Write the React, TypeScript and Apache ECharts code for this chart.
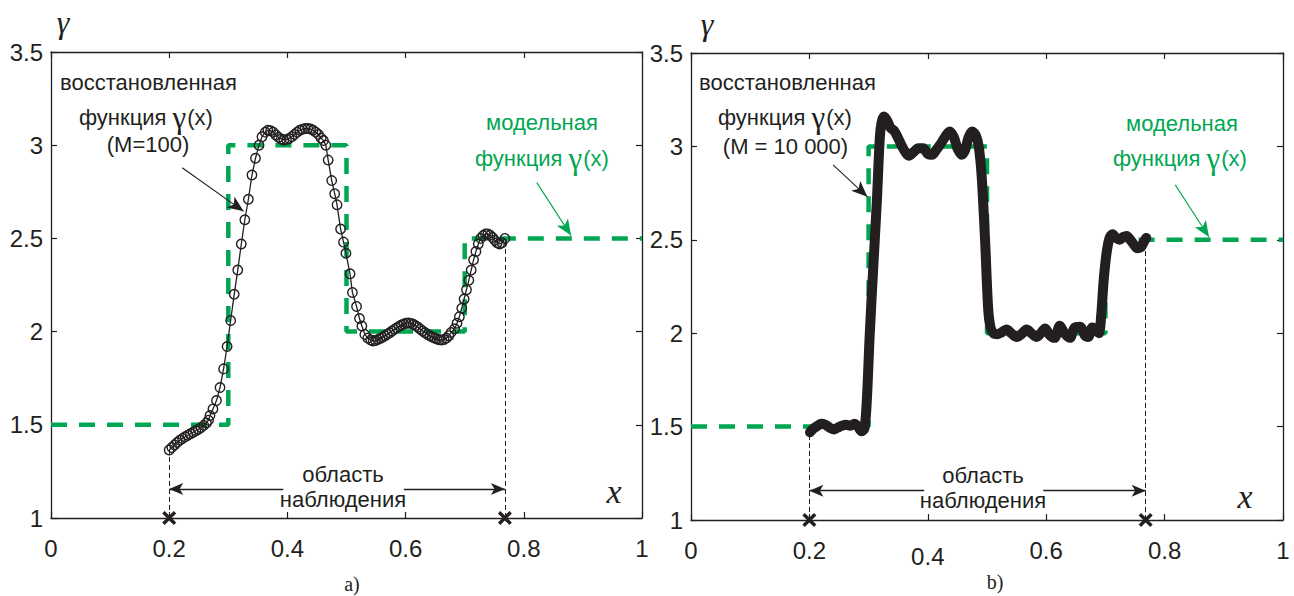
import React, { useEffect, useRef } from "react";
import * as echarts from "echarts";

// ---------- data ----------
const X_MIN = 0;
const X_MAX = 1;
const X_STEP = 0.2;
const Y_MIN = 1;
const Y_MAX = 3.5;
const Y_STEP = 0.5;

// model function gamma(x): [x where level starts, level]
const modelSteps: [number, number][] = [
  [0, 1.5],
  [0.3, 3],
  [0.5, 2],
  [0.7, 2.5],
  [1, 2.5],
];

// observation region
const OBS_START = 0.2;
const OBS_END = 0.768;

// reconstructed gamma(x), M = 100 (panel a)
const recon100: [number, number][] = [
  [0.2, 1.365], [0.2045, 1.378], [0.209, 1.392], [0.2135, 1.405], [0.218, 1.417],
  [0.2225, 1.427], [0.227, 1.436], [0.2315, 1.444], [0.236, 1.452], [0.2405, 1.46],
  [0.245, 1.468], [0.2495, 1.476], [0.254, 1.486], [0.2585, 1.497], [0.263, 1.51],
  [0.2665, 1.525],
  [0.269, 1.55], [0.274, 1.585], [0.28, 1.63], [0.286, 1.7], [0.292, 1.8],
  [0.298, 1.92], [0.304, 2.06], [0.31, 2.2], [0.316, 2.33], [0.322, 2.47],
  [0.328, 2.6], [0.334, 2.71], [0.34, 2.84], [0.346, 2.93], [0.352, 3.0], [0.357, 3.045],
  [0.3625, 3.07], [0.367, 3.08], [0.3715, 3.078], [0.376, 3.07], [0.3805, 3.055],
  [0.385, 3.042], [0.3895, 3.033], [0.394, 3.028], [0.3985, 3.03], [0.403, 3.036],
  [0.4075, 3.046], [0.412, 3.058], [0.4165, 3.07], [0.421, 3.08], [0.4255, 3.086],
  [0.43, 3.09], [0.4345, 3.09], [0.439, 3.087], [0.4435, 3.08], [0.448, 3.07],
  [0.4525, 3.058], [0.457, 3.038], [0.461, 3.025],
  [0.465, 3.0], [0.469, 2.92], [0.475, 2.81], [0.48, 2.74], [0.484, 2.68],
  [0.49, 2.55], [0.495, 2.48], [0.499, 2.42], [0.506, 2.31], [0.51, 2.21],
  [0.517, 2.135], [0.522, 2.07], [0.526, 2.03], [0.531, 1.985], [0.536, 1.965],
  [0.541, 1.955], [0.545, 1.95], [0.549, 1.952], [0.553, 1.957], [0.557, 1.963],
  [0.561, 1.97], [0.565, 1.978], [0.569, 1.986], [0.573, 1.994], [0.577, 2.003],
  [0.581, 2.012], [0.585, 2.02], [0.589, 2.028], [0.593, 2.035], [0.597, 2.041],
  [0.601, 2.045], [0.605, 2.046], [0.609, 2.044], [0.613, 2.039], [0.617, 2.032],
  [0.621, 2.023], [0.625, 2.013], [0.629, 2.003], [0.633, 1.994], [0.637, 1.986],
  [0.641, 1.978], [0.645, 1.971], [0.649, 1.965], [0.653, 1.96], [0.657, 1.956],
  [0.661, 1.955], [0.665, 1.957], [0.669, 1.965], [0.673, 1.978], [0.677, 1.995],
  [0.683, 2.015], [0.687, 2.045], [0.691, 2.08], [0.695, 2.125], [0.699, 2.175],
  [0.703, 2.225], [0.707, 2.275], [0.711, 2.33], [0.715, 2.385], [0.719, 2.43],
  [0.723, 2.47], [0.727, 2.5], [0.731, 2.515], [0.735, 2.523], [0.739, 2.524],
  [0.743, 2.517], [0.747, 2.505], [0.751, 2.49], [0.755, 2.477], [0.759, 2.47],
  [0.763, 2.477], [0.768, 2.5],
];

// reconstructed gamma(x), M = 10 000 (panel b)
const recon10000: [number, number][] = [
  [0.201, 1.47], [0.207, 1.49], [0.214, 1.505], [0.22, 1.515], [0.227, 1.51],
  [0.234, 1.495], [0.241, 1.485], [0.248, 1.495], [0.255, 1.505], [0.262, 1.51],
  [0.269, 1.505], [0.276, 1.515], [0.282, 1.5], [0.288, 1.475], [0.293, 1.49],
  [0.297, 1.64], [0.302, 2.0], [0.308, 2.36], [0.314, 2.71], [0.319, 3.05],
  [0.322, 3.13], [0.326, 3.16], [0.331, 3.14], [0.337, 3.1], [0.344, 3.08],
  [0.352, 3.03], [0.36, 2.98], [0.368, 2.95], [0.376, 2.97], [0.384, 2.99],
  [0.392, 2.99], [0.4, 2.96], [0.407, 2.955], [0.414, 2.98], [0.421, 3.01],
  [0.429, 3.05], [0.437, 3.08], [0.444, 3.05], [0.45, 2.99], [0.457, 2.955],
  [0.463, 2.98], [0.469, 3.05], [0.475, 3.08], [0.481, 3.06], [0.486, 3.0],
  [0.491, 2.84], [0.497, 2.48], [0.502, 2.13], [0.506, 2.03], [0.511, 2.0],
  [0.518, 1.995], [0.525, 2.005], [0.533, 2.02], [0.541, 2.0], [0.55, 1.98],
  [0.558, 1.995], [0.567, 2.02], [0.575, 2.0], [0.584, 1.98], [0.591, 2.0],
  [0.598, 2.025], [0.606, 1.99], [0.614, 1.975], [0.623, 2.04], [0.631, 2.0],
  [0.64, 1.975], [0.648, 2.03], [0.657, 2.035], [0.665, 1.99], [0.671, 1.98],
  [0.678, 2.03], [0.684, 2.02], [0.689, 2.0], [0.693, 2.1], [0.697, 2.28],
  [0.702, 2.43], [0.707, 2.51], [0.712, 2.53], [0.718, 2.51], [0.724, 2.5],
  [0.73, 2.515], [0.736, 2.52], [0.742, 2.5], [0.748, 2.475], [0.754, 2.455],
  [0.76, 2.46], [0.765, 2.49], [0.769, 2.51],
];

// annotation geometry (data coordinates)
const obsArrowY = [1.156, 1.157];
const obsArrowGapLeft = [0.393, 0.394];
const obsArrowGapRight = [0.597, 0.595];
const reconArrow: [number, number, number, number][] = [
  [0.222, 2.879, 0.326, 2.645],
  [0.24, 2.901, 0.298, 2.73],
];
const modelArrow: [number, number, number, number][] = [
  [0.822, 2.799, 0.88, 2.515],
  [0.818, 2.794, 0.875, 2.515],
];
const reconLabels = ["(M=100)", "(M = 10 000)"];
const panelLabels = ["a)", "b)"];

// ---------- styles ----------
const BLACK = "#231f20";
const GREEN = "#00a651";
const SANS = "'Liberation Sans', Arial, Helvetica, sans-serif";
const SERIF = "'Liberation Serif', 'Times New Roman', serif";

const grids = [
  { left: 51, top: 52, width: 591, height: 466 },
  { left: 691, top: 53, width: 592, height: 467 },
];

const CROSS =
  "path://M0 1.7L1.7 0L5 3.3L8.3 0L10 1.7L6.7 5L10 8.3L8.3 10L5 6.7L1.7 10L0 8.3L3.3 5Z";

function txt(x: number, y: number, text: string, o: any = {}) {
  return {
    type: "text",
    x,
    y,
    silent: true,
    z: 50,
    style: {
      text,
      fill: o.fill || BLACK,
      fontSize: o.fontSize || 22,
      fontFamily: o.fontFamily || SANS,
      fontStyle: o.fontStyle || "normal",
      align: o.align || "left",
      verticalAlign: "middle",
      textAlign: o.align || "left",
      textVerticalAlign: "middle",
      rich: o.rich,
    },
  };
}

function gammaRich(fill: string) {
  return {
    a: { fontSize: 22, fontFamily: SANS, fill, color: fill, lineHeight: 24 },
    g: { fontSize: 31, fontFamily: SERIF, fill, color: fill, lineHeight: 24, padding: [0, 1, 0, 0] },
  };
}

export default function App() {
  const ref = useRef<HTMLDivElement>(null);

  useEffect(() => {
    if (!ref.current) return;
    const chart = echarts.init(ref.current, null, { renderer: "svg" });

    const xAxes: any[] = [];
    const yAxes: any[] = [];
    grids.forEach((_, g) => {
      const line = { show: true, onZero: false, lineStyle: { color: BLACK, width: 1.3 } };
      const tick = { show: true, inside: true, length: 6, lineStyle: { color: BLACK, width: 1.2 } };
      xAxes.push({
        gridIndex: g,
        type: "value",
        min: X_MIN,
        max: X_MAX,
        interval: X_STEP,
        position: "bottom",
        axisLine: line,
        axisTick: tick,
        splitLine: { show: false },
        axisLabel: {
          margin: 18,
          fontSize: 24,
          fontFamily: SANS,
          color: BLACK,
          showMinLabel: true,
          showMaxLabel: true,
          formatter: (v: number) =>
            g === 1 && Math.abs(v - 0.4) < 1e-9 ? "{low|" + v + "}" : String(+v.toFixed(2)),
          rich: {
            low: { fontSize: 24, fontFamily: SANS, color: BLACK, padding: [6, 0, 0, 0] },
          },
        },
      });
      xAxes.push({
        gridIndex: g,
        type: "value",
        min: X_MIN,
        max: X_MAX,
        interval: X_STEP,
        position: "top",
        axisLine: line,
        axisTick: tick,
        splitLine: { show: false },
        axisLabel: { show: false },
      });
      yAxes.push({
        gridIndex: g,
        type: "value",
        min: Y_MIN,
        max: Y_MAX,
        interval: Y_STEP,
        position: "left",
        axisLine: line,
        axisTick: tick,
        splitLine: { show: false },
        axisLabel: { margin: 8, fontSize: 24, fontFamily: SANS, color: BLACK, showMinLabel: true, showMaxLabel: true },
      });
      yAxes.push({
        gridIndex: g,
        type: "value",
        min: Y_MIN,
        max: Y_MAX,
        interval: Y_STEP,
        position: "right",
        axisLine: line,
        axisTick: tick,
        splitLine: { show: false },
        axisLabel: { show: false },
      });
    });

    const series: any[] = [];
    [recon100, recon10000].forEach((recon, g) => {
      const xi = g * 2;
      const yi = g * 2;
      const startY = recon[0][1];
      const endY = recon[recon.length - 1][1];
      // model function (green dashed step)
      series.push({
        type: "line",
        xAxisIndex: xi,
        yAxisIndex: yi,
        data: modelSteps,
        step: "end",
        symbol: "none",
        silent: true,
        z: 3,
        lineStyle: { color: GREEN, width: 4.5, type: [16, 12] },
      });
      // guides, arrows
      series.push({
        type: "line",
        xAxisIndex: xi,
        yAxisIndex: yi,
        data: [],
        silent: true,
        z: 4,
        markLine: {
          silent: true,
          animation: false,
          label: { show: false },
          emphasis: { disabled: true },
          symbol: "none",
          lineStyle: { color: BLACK, width: 1, type: [5, 3] },
          data: [
            [{ coord: [OBS_START, Y_MIN] }, { coord: [OBS_START, startY] }],
            [{ coord: [OBS_END, Y_MIN] }, { coord: [OBS_END, endY] }],
            [
              { coord: [OBS_START, obsArrowY[g]], symbol: "arrow", symbolSize: [9, 14], lineStyle: { type: "solid", width: 1.3, color: BLACK } },
              { coord: [obsArrowGapLeft[g], obsArrowY[g]], symbol: "none" },
            ],
            [
              { coord: [obsArrowGapRight[g], obsArrowY[g]], symbol: "none", lineStyle: { type: "solid", width: 1.3, color: BLACK } },
              { coord: [OBS_END, obsArrowY[g]], symbol: "arrow", symbolSize: [9, 14] },
            ],
            [
              { coord: [reconArrow[g][0], reconArrow[g][1]], symbol: "none", lineStyle: { type: "solid", width: 1.1, color: BLACK } },
              { coord: [reconArrow[g][2], reconArrow[g][3]], symbol: "arrow", symbolSize: [10, 16] },
            ],
            [
              { coord: [modelArrow[g][0], modelArrow[g][1]], symbol: "none", lineStyle: { type: "solid", width: 1.1, color: GREEN } },
              { coord: [modelArrow[g][2], modelArrow[g][3]], symbol: "arrow", symbolSize: [10, 16], itemStyle: { color: GREEN } },
            ],
          ],
        },
      });
      // reconstruction
      if (g === 0) {
        series.push({
          type: "line",
          xAxisIndex: xi,
          yAxisIndex: yi,
          data: recon,
          symbol: "circle",
          symbolSize: 9.5,
          showAllSymbol: true,
          silent: true,
          z: 6,
          lineStyle: { color: BLACK, width: 1.3 },
          itemStyle: { color: "rgba(255,255,255,0)", borderColor: BLACK, borderWidth: 1.4 },
        });
      } else {
        series.push({
          type: "line",
          xAxisIndex: xi,
          yAxisIndex: yi,
          data: recon,
          symbol: "none",
          smooth: 0.3,
          silent: true,
          z: 6,
          lineStyle: { color: BLACK, width: 10, cap: "round", join: "round" },
        });
      }
      // observation-region end marks
      series.push({
        type: "scatter",
        xAxisIndex: xi,
        yAxisIndex: yi,
        data: [
          [OBS_START, Y_MIN],
          [OBS_END, Y_MIN],
        ],
        symbol: CROSS,
        symbolSize: 14,
        clip: false,
        silent: true,
        z: 8,
        itemStyle: { color: BLACK, opacity: 1 },
      });
    });

    const graphic: any[] = [];
    const panelsText = [
      {
        restored: [60, 82],
        func: [79, 117],
        m: [148, 144.5],
        mod: [542, 122.5],
        modFunc: [475, 158],
        obl: [343, 474],
        nab: [343, 499],
        gammaAxis: [63, 22],
        xAxisName: [614, 491],
        panel: [352, 584],
      },
      {
        restored: [699, 82.5],
        func: [718, 117],
        m: [785.5, 146],
        mod: [1182, 123],
        modFunc: [1113, 158.5],
        obl: [983, 475.5],
        nab: [983, 500.5],
        gammaAxis: [707, 24],
        xAxisName: [1245, 496],
        panel: [995, 582],
      },
    ];
    panelsText.forEach((p, g) => {
      graphic.push(txt(p.restored[0], p.restored[1], "восстановленная"));
      graphic.push(
        txt(p.func[0], p.func[1], "{a|функция }{g|γ}{a|(x)}", { rich: gammaRich(BLACK) })
      );
      graphic.push(txt(p.m[0], p.m[1], reconLabels[g], { align: "center" }));
      graphic.push(txt(p.mod[0], p.mod[1], "модельная", { align: "center", fill: GREEN }));
      graphic.push(
        txt(p.modFunc[0], p.modFunc[1], "{a|функция }{g|γ}{a|(x)}", { rich: gammaRich(GREEN), fill: GREEN })
      );
      graphic.push(txt(p.obl[0], p.obl[1], "область", { align: "center" }));
      graphic.push(txt(p.nab[0], p.nab[1], "наблюдения", { align: "center" }));
      graphic.push(
        txt(p.gammaAxis[0], p.gammaAxis[1], "γ", { align: "center", fontFamily: SERIF, fontSize: 32, fontStyle: "italic" })
      );
      graphic.push(
        txt(p.xAxisName[0], p.xAxisName[1], "x", { align: "center", fontFamily: SERIF, fontSize: 34, fontStyle: "italic" })
      );
      graphic.push(txt(p.panel[0], p.panel[1], panelLabels[g], { align: "center", fontFamily: SERIF, fontSize: 20 }));
    });

    chart.setOption({
      animation: false,
      backgroundColor: "#ffffff",
      grid: grids,
      xAxis: xAxes,
      yAxis: yAxes,
      series,
      graphic,
    });

    return () => chart.dispose();
  }, []);

  return (
    <div
      ref={ref}
      style={{ position: "absolute", left: 0, top: 0, width: 1294, height: 596 }}
    />
  );
}
